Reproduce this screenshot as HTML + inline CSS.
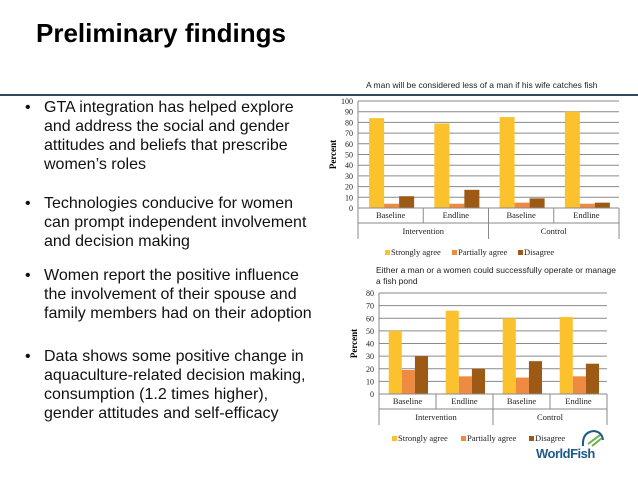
<!DOCTYPE html>
<html><head><meta charset="utf-8">
<style>
body{margin:0;width:638px;height:479px;background:#fff;overflow:hidden;position:relative;font-family:"Liberation Sans",sans-serif}
#title{position:absolute;left:36px;top:18px;font-size:26px;font-weight:bold;color:#000}
#rule{position:absolute;left:0;top:94px;width:638px;height:2px;background:#2f4a5a}
.b{position:absolute;left:25px;font-size:16px;line-height:19px;color:#111;width:300px}
.b span{position:absolute;left:0}
.b div{margin-left:19px;width:275px}
</style></head><body>
<div id="title">Preliminary findings</div>
<div id="rule"></div>
<div class="b" style="top:98px"><span>•</span><div>GTA integration has helped explore and address the social and gender attitudes and beliefs that prescribe women’s roles</div></div>
<div class="b" style="top:194px"><span>•</span><div>Technologies conducive for women can prompt independent involvement and decision making</div></div>
<div class="b" style="top:266px"><span>•</span><div>Women report the positive influence the involvement of their spouse and family members had on their adoption</div></div>
<div class="b" style="top:347px"><span>•</span><div>Data shows some positive change in aquaculture-related decision making, consumption (1.2 times higher), gender attitudes and self-efficacy</div></div>
<svg id="svg" width="638" height="479" style="position:absolute;left:0;top:0"></svg>
<script>
const categories=["Baseline","Endline","Baseline","Endline"];
const groups=["Intervention","Control"];
const seriesNames=["Strongly agree","Partially agree","Disagree"];
const colors=["#fcc22e","#ef8a42","#9c5a14"];
const c1Strong=[84,79,85,90];
const c1Partial=[4,4,5,4];
const c1Disagree=[11,17,9,5];
const c1Ticks=[0,10,20,30,40,50,60,70,80,90,100];
const c2Strong=[50,66,60,61];
const c2Partial=[19,14,13,14];
const c2Disagree=[30,20,26,24];
const c2Ticks=[0,10,20,30,40,50,60,70,80];
const NS="http://www.w3.org/2000/svg";
const svg=document.getElementById('svg');
function mk(t,a,p){const e=document.createElementNS(NS,t);for(const k in a)e.setAttribute(k,a[k]);(p||svg).appendChild(e);return e;}
function chart(cfg){
 const g=mk('g',{});
 
 
 const max=cfg.ticks[cfg.ticks.length-1];
 const y=v=>cfg.y0-(cfg.y0-cfg.yTop)*v/max;
 const cw=(cfg.x1-cfg.x0)/categories.length;
 const x=i=>cfg.x0+i*cw;
 const t=mk('text',{x:cfg.titleX,y:cfg.titleY,'font-size':8.5,fill:'#222'},g);
 
 
 cfg.title.forEach((s,i)=>{const ts=mk('tspan',{x:cfg.titleX,dy:i?11:0},t);ts.textContent=s;});
 cfg.ticks.forEach(v=>{
  mk('line',{x1:cfg.x0,x2:cfg.x1,y1:y(v),y2:y(v),stroke:'#8a8a8a','stroke-width':1},g);
  const tl=mk('text',{x:cfg.x0-5,y:y(v)+3,'font-size':8,'text-anchor':'end','font-family':'Liberation Serif',fill:'#222'},g);
  
  
  tl.textContent=v;
 });
 mk('line',{x1:cfg.x0,x2:cfg.x0,y1:cfg.yTop,y2:cfg.y0,stroke:'#8a8a8a'},g);
 const yt=mk('text',{transform:`translate(${cfg.x0-22},${(cfg.y0+cfg.yTop)/2}) rotate(-90)`,'font-size':9,'font-weight':'bold','text-anchor':'middle','font-family':'Liberation Serif'},g);
 
 
 yt.textContent='Percent';
 const series=[cfg.s1,cfg.s2,cfg.s3];
 const bw=cw*0.23, off=cw*0.17;
 categories.forEach((c,i)=>{
  series.forEach((s,k)=>{
   const r=mk('rect',{x:x(i)+off+k*bw,y:y(s[i]),width:bw,height:cfg.y0-y(s[i]),fill:colors[k]},g);
   
   
  });
  const cl=mk('text',{x:x(i)+cw/2,y:cfg.y0+cfg.r1*0.65,'font-size':8.5,'text-anchor':'middle','font-family':'Liberation Serif',fill:'#222'},g);
  
  
  cl.textContent=c;
 });
 mk('line',{x1:cfg.x0,x2:cfg.x1,y1:cfg.y0,y2:cfg.y0,stroke:'#8a8a8a'},g);
 for(let i=0;i<=4;i++){const yb=(i%2==0)?cfg.y0+cfg.r1+cfg.r2:cfg.y0+cfg.r1;mk('line',{x1:x(i),x2:x(i),y1:cfg.y0,y2:yb,stroke:'#8a8a8a'},g);}
 mk('line',{x1:cfg.x0,x2:cfg.x1,y1:cfg.y0+cfg.r1,y2:cfg.y0+cfg.r1,stroke:'#8a8a8a'},g);
 groups.forEach((gn,i)=>{
  const gl=mk('text',{x:x(i*2)+cw,y:cfg.y0+cfg.r1+cfg.r2*0.7,'font-size':8.5,'text-anchor':'middle','font-family':'Liberation Serif',fill:'#222'},g);
  
  
  gl.textContent=gn;
 });
 let lx=cfg.legX;
 seriesNames.forEach((n,k)=>{
  const le=mk('g',{},g);
  
  
  mk('rect',{x:lx,y:cfg.legY-5,width:5,height:5,fill:colors[k]},le);
  const lt=mk('text',{x:lx+6,y:cfg.legY,'font-size':8.5,'font-family':'Liberation Serif',fill:'#222'},le);
  lt.textContent=n;
  lx+=[67,66,60][k]*cfg.legS;
 });
}
chart({name:'chart-man-less',title:['A man will be considered less of a man if his wife catches fish'],titleX:366,titleY:88,x0:358,x1:619,yTop:101,y0:208,ticks:c1Ticks,s1:c1Strong,s2:c1Partial,s3:c1Disagree,r1:15,r2:16,legX:385,legY:255,legS:1});
chart({name:'chart-fish-pond',title:['Either a man or a women could successfully operate or manage','a fish pond'],titleX:376,titleY:273,x0:379,x1:607,yTop:293,y0:394,ticks:c2Ticks,s1:c2Strong,s2:c2Partial,s3:c2Disagree,r1:15,r2:16,legX:392,legY:441,legS:1.03});
</script>
<div style="position:absolute;left:536px;top:446px;font:bold 13px 'Liberation Sans',sans-serif;color:#1d5a8a;letter-spacing:-0.5px">WorldFish</div>
<svg style="position:absolute;left:580px;top:428px" width="26" height="22"><path d="M3 18 Q2 4 14 3 Q22 4 23 12" fill="none" stroke="#1d5a8a" stroke-width="2"/><path d="M8 16 L20 7 M12 18 L22 10" stroke="#6ab04c" stroke-width="2"/></svg>
</body></html>
